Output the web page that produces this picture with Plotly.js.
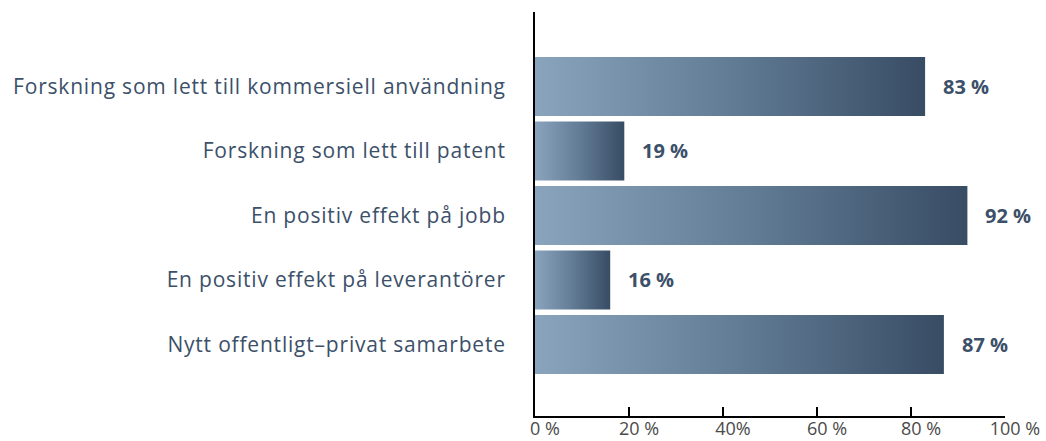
<!DOCTYPE html>
<html><head><meta charset="utf-8">
<script src="https://cdn.plot.ly/plotly-3.0.1.min.js"></script>
<style>html,body{margin:0;padding:0;background:#fff}#chart{width:1046px;height:441px}
.ytick text{letter-spacing:0.8px}</style>
</head><body><div id="chart"></div>
<script>
const categories = ["Forskning som lett till kommersiell användning","Forskning som lett till patent","En positiv effekt på jobb","En positiv effekt på leverantörer","Nytt offentligt–privat samarbete"];
const values = [83, 19, 92, 16, 87];
const valueLabels = ["83 %", "19 %", "92 %", "16 %", "87 %"];
const tickVals = [0, 20, 40, 60, 80, 100];
const tickLabels = ["0 %", "20 %", "40%", "60 %", "80 %", "100 %"];

const idx = categories.map((c, i) => i);
const textColor = "#3c5069";
const font = "Open Sans, Noto Sans, sans-serif";

const trace = {
  type: "bar", orientation: "h",
  x: values, y: idx,
  width: 0.915,
  marker: {color: "#5f7893", line: {width: 0}},
  hoverinfo: "none"
};

const annotations = values.map((v, i) => ({
  x: v, y: i, xref: "x", yref: "y", text: "<b>" + valueLabels[i] + "</b>",
  showarrow: false, xanchor: "left", xshift: 16,
  font: {family: font, size: 20, color: textColor}
}));

const layout = {
  width: 1046, height: 441,
  margin: {l: 535, r: 41, t: 12, b: 25},
  paper_bgcolor: "#fff", plot_bgcolor: "#fff",
  showlegend: false,
  font: {family: font},
  xaxis: {
    range: [0, 100], tickvals: tickVals, ticktext: tickLabels,
    showgrid: false, zeroline: false,
    showline: true, linecolor: "#000", linewidth: 2,
    ticks: "inside", ticklen: 9, tickwidth: 2, tickcolor: "#000",
    ticklabelshift: 10, ticklabelstandoff: -5,
    tickfont: {family: font, size: 18, color: "#4a4a4a"}
  },
  yaxis: {
    range: [5.11, -1.155], tickvals: idx, ticktext: categories,
    showgrid: false, zeroline: false,
    showline: true, linecolor: "#000", linewidth: 2,
    ticks: "", ticklabelstandoff: 23,
    tickfont: {family: font, size: 21, color: textColor}
  },
  annotations: annotations
};

Plotly.newPlot("chart", [trace], layout, {displayModeBar: false, staticPlot: true}).then(gd => {
  const svgNS = "http://www.w3.org/2000/svg";
  const svg = gd.querySelector("svg.main-svg");
  let defs = svg.querySelector("defs");
  if (!defs) { defs = document.createElementNS(svgNS, "defs"); svg.insertBefore(defs, svg.firstChild); }
  const g = document.createElementNS(svgNS, "linearGradient");
  g.setAttribute("id", "barGrad");
  g.setAttribute("x1", "0"); g.setAttribute("y1", "0");
  g.setAttribute("x2", "1"); g.setAttribute("y2", "0");
  [["0", "#8ba4be"], ["0.5", "#627c96"], ["1", "#384c64"]].forEach(([o, c]) => {
    const s = document.createElementNS(svgNS, "stop");
    s.setAttribute("offset", o); s.setAttribute("stop-color", c);
    g.appendChild(s);
  });
  defs.appendChild(g);
  gd.querySelectorAll(".trace.bars .point path").forEach(p => {
    p.style.fill = "url(#barGrad)";
  });
});
</script></body></html>
